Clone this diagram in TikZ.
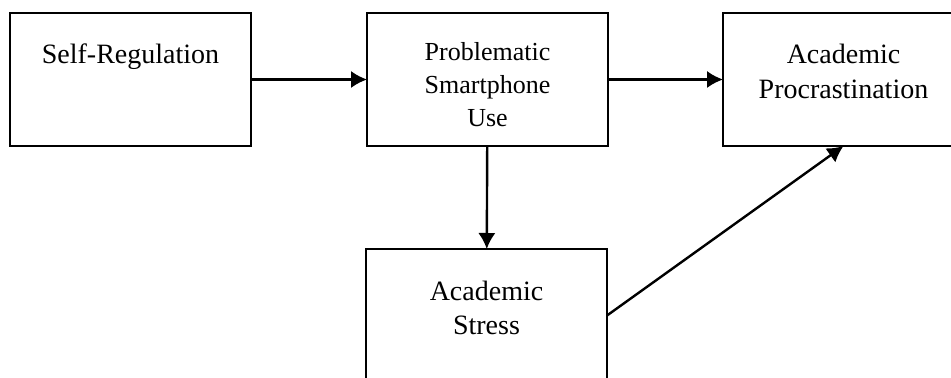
\documentclass[tikz,border=0pt]{standalone}
\usepackage{fontspec}
\setmainfont{Liberation Serif}
\usetikzlibrary{arrows.meta,positioning}

\begin{document}
\begin{tikzpicture}[x=0.75pt, y=-0.75pt,
  box/.style={draw, line width=1.3pt, minimum width=180.75pt, minimum height=99.75pt, inner sep=0pt, outer sep=0pt},
  boxtext/.style={align=center, inner sep=0pt, font=\fontsize{21}{26.2}\selectfont},
  smalltext/.style={align=center, inner sep=0pt, font=\fontsize{19.5}{24.6}\selectfont},
  link/.style={-{Latex[length=12pt,width=13pt]}, line width=1.8pt}]

\clip (0,0) rectangle (951,378);

\node[box] (selfreg) at (130.5,79.5)  {};
\node[box] (phone)   at (487.5,79.5)  {};
\node[box] (procr)   at (843.5,79.5)  {};
\node[box] (stress)  at (486.5,315.5) {};

\node[boxtext,   below=23pt of selfreg.north] (selfregtxt) {Self-Regulation};
\node[smalltext, below=22pt of phone.north]   (phonetxt)   {Problematic\\Smartphone\\Use};
\node[boxtext,   below=23pt of procr.north]   (procrtxt)   {Academic\\Procrastination};
\node[boxtext,   below=23.5pt of stress.north] (stresstxt) {Academic\\Stress};

\draw[link] (selfreg) -- (phone);
\draw[link] (phone) -- (procr);
\draw[link] (phone) -- (stress);
\draw[link] (stress.east) -- (procr.south);

\end{tikzpicture}
\end{document}
